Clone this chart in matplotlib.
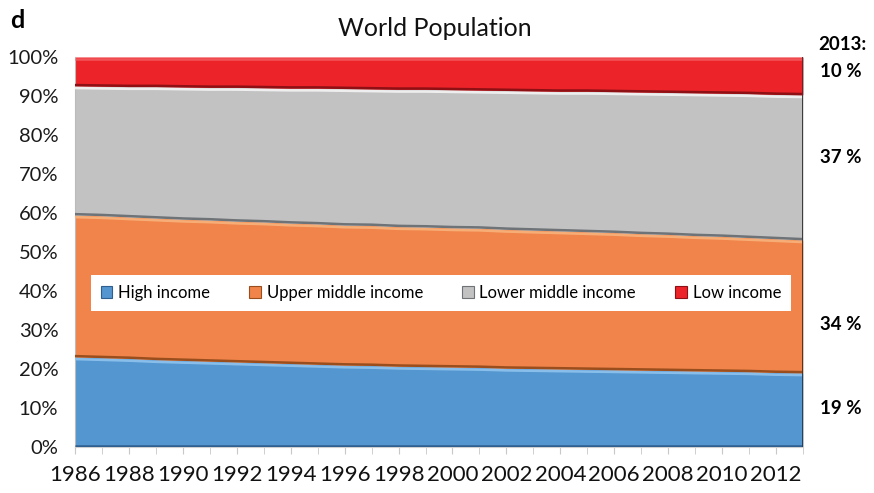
"""World population shares by income group, 1986-2013 (100% stacked area)."""

import matplotlib
matplotlib.use("Agg")
import matplotlib.pyplot as plt
from matplotlib.patches import Patch
from matplotlib.ticker import PercentFormatter
import numpy as np

plt.rcParams["font.family"] = ["Lato", "DejaVu Sans"]

YEARS = list(range(1986, 2014))

# shares of world population, percent
HIGH = [23.1, 22.9, 22.7, 22.4, 22.2, 22.0, 21.8, 21.6, 21.4, 21.2, 21.0, 20.9, 20.7, 20.6,
        20.5, 20.4, 20.2, 20.1, 20.0, 19.9, 19.8, 19.7, 19.6, 19.5, 19.4, 19.3, 19.1, 19.0]
UPPER_MID = [36.4, 36.4, 36.3, 36.3, 36.2, 36.2, 36.1, 36.1, 36.0, 36.0, 35.9, 35.9, 35.8, 35.8,
             35.7, 35.7, 35.6, 35.5, 35.4, 35.3, 35.2, 35.0, 34.9, 34.7, 34.6, 34.4, 34.3, 34.1]
LOWER_MID = [33.1, 33.2, 33.4, 33.7, 33.9, 34.0, 34.3, 34.4, 34.6, 34.8, 35.0, 35.0, 35.2, 35.3,
             35.4, 35.4, 35.6, 35.7, 35.8, 36.0, 36.1, 36.3, 36.4, 36.6, 36.7, 36.9, 37.0, 37.2]
LOW = [7.4, 7.5, 7.6, 7.6, 7.7, 7.8, 7.8, 7.9, 8.0, 8.0, 8.1, 8.2, 8.3, 8.3,
       8.4, 8.5, 8.6, 8.7, 8.8, 8.8, 8.9, 9.0, 9.1, 9.2, 9.3, 9.4, 9.6, 9.7]

LABELS = ["High income", "Upper middle income", "Lower middle income", "Low income"]
END_LABELS = ["19 %", "34 %", "37 %", "10 %"]

COLORS = ["#5496CF", "#F0844A", "#C2C2C2", "#EC2329"]
DARK = ["#2F5F8E", "#9A4E1E", "#6E7378", "#8E1014"]
LIGHT = ["#8FC3EE", "#F8B27C", "#F4F4F4", "#F25A5E"]

series = [np.array(s, dtype=float) for s in (HIGH, UPPER_MID, LOWER_MID, LOW)]
years = np.array(YEARS)

fig = plt.figure(figsize=(8.74, 4.93), dpi=100)
ax = fig.add_axes([0.0858, 0.0933, 0.8330, 0.7911])

base = np.zeros(len(YEARS))
px = 100 / 390  # one pixel in data units
for vals, col, dark, light in zip(series, COLORS, DARK, LIGHT):
    top = base + vals
    ax.fill_between(years, base, top, color=col, linewidth=0, zorder=2)
    # crude bevel: dark rim at the bottom, highlight just under the top
    ax.plot(years, base + 0.8 * px, color=dark, lw=1.8, zorder=3, solid_capstyle="butt")
    ax.plot(years, top - 2.2 * px, color=light, lw=1.8, alpha=0.9, zorder=3, solid_capstyle="butt")
    base = top

# right edge shading
ax.axvline(years[-1], color="#3A3A3A", lw=1.4, zorder=4)

ax.set_xlim(years[0], years[-1])
ax.set_ylim(0, 100)
ax.yaxis.set_major_formatter(PercentFormatter(decimals=0))
ax.set_yticks(np.arange(0, 101, 10))
ax.tick_params(axis="y", length=0, pad=12, labelsize=14.5, labelcolor="#1A1A1A")

ax.set_xticks(years[::2])
ax.set_xticks(years[1::2], minor=True)
ax.tick_params(axis="x", which="both", length=5, color="#C8C8C8", direction="out")
ax.tick_params(axis="x", which="major", pad=8, labelsize=16, labelcolor="#111111")

for side in ("top", "right"):
    ax.spines[side].set_visible(False)
ax.spines["left"].set_color("#BBBBBB")
ax.spines["bottom"].set_color("#D0D0D0")

handles = [Patch(facecolor=c, edgecolor=d, linewidth=0.8) for c, d in zip(COLORS, DARK)]
leg = ax.legend(handles, LABELS, ncol=4, loc="center", mode="expand",
                bbox_to_anchor=(0.010, 0.350, 0.985, 0.092),
                frameon=True, fancybox=False, framealpha=1, edgecolor="none",
                fontsize=12, handlelength=0.7, handleheight=0.7, handletextpad=0.35,
                borderpad=0.6)
leg.set_zorder(5)

fig.text(0.497, 0.942, "World Population", ha="center", va="center", fontsize=18, color="#111111")
fig.text(0.012, 0.958, "d", ha="left", va="center", fontsize=18, fontweight="bold")

# 2013 share labels on the right
fig.text(0.936, 0.910, "2013:", ha="left", va="center", fontsize=13.5, fontweight="bold")
end_y = [0.172, 0.342, 0.680, 0.855]
for lab, y in zip(END_LABELS, end_y):
    fig.text(0.938, y, lab, ha="left", va="center", fontsize=13.5, fontweight="bold")

fig.savefig("out.png", dpi=100)
